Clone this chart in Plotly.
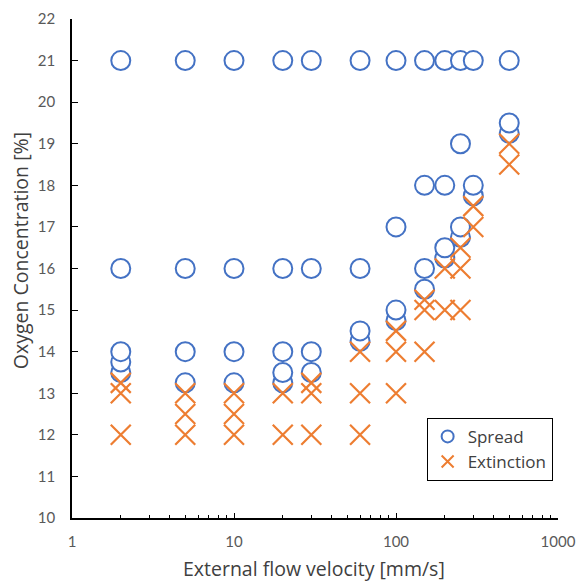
import plotly.graph_objects as go

# Flow velocity [mm/s] and oxygen concentration [%] for flame-spread tests
spread_velocity = [2, 2, 2, 2, 2,
                   5, 5, 5, 5,
                   10, 10, 10, 10,
                   20, 20, 20, 20, 20,
                   30, 30, 30, 30,
                   60, 60, 60, 60,
                   100, 100, 100, 100,
                   150, 150, 150, 150,
                   200, 200, 200, 200,
                   250, 250, 250, 250,
                   300, 300, 300,
                   500, 500, 500]
spread_oxygen = [13.5, 13.75, 14, 16, 21,
                 13.25, 14, 16, 21,
                 13.25, 14, 16, 21,
                 13.25, 13.5, 14, 16, 21,
                 13.5, 14, 16, 21,
                 14.25, 14.5, 16, 21,
                 14.75, 15, 17, 21,
                 15.5, 16, 18, 21,
                 16.25, 16.5, 18, 21,
                 16.75, 17, 19, 21,
                 17.75, 18, 21,
                 19.25, 19.5, 21]

# Conditions where the flame went out
extinction_velocity = [2, 2, 2,
                       5, 5, 5,
                       10, 10, 10,
                       20, 20,
                       30, 30, 30,
                       60, 60, 60,
                       100, 100, 100,
                       150, 150, 150,
                       200, 200,
                       250, 250, 250,
                       300, 300,
                       500, 500]
extinction_oxygen = [12, 13, 13.25,
                     12, 12.5, 13,
                     12, 12.5, 13,
                     12, 13,
                     12, 13, 13.25,
                     12, 13, 14,
                     13, 14, 14.5,
                     14, 15, 15.25,
                     15, 16,
                     15, 16, 16.5,
                     17, 17.5,
                     18.5, 19]

x_major = [1, 10, 100, 1000]
x_minor = [m * d for d in (1, 10, 100) for m in range(2, 10)]
y_ticks = list(range(10, 23))

BLUE = "#4472C4"
ORANGE = "#ED7D31"
TICK_GREY = "#595959"
TITLE_GREY = "#404040"
TICK_FONT = "Lato, 'Open Sans', sans-serif"
TITLE_FONT = "'Open Sans', Lato, sans-serif"

fig = go.Figure()

fig.add_trace(go.Scatter(
    x=spread_velocity, y=spread_oxygen, mode="markers", name="Spread",
    marker=dict(symbol="circle", size=19, color="white",
                line=dict(color=BLUE, width=2)),
))

fig.add_trace(go.Scatter(
    x=extinction_velocity, y=extinction_oxygen, mode="markers", name="Extinction",
    marker=dict(symbol="x-thin", size=20, color=ORANGE,
                line=dict(color=ORANGE, width=2.2)),
))

W, H = 578, 583
L, R, T, B = 72, 19.5, 18.5, 64.7
plot_w = W - L - R
plot_h = H - T - B

fig.update_layout(
    width=W, height=H,
    margin=dict(l=L, r=R, t=T, b=B, pad=0, autoexpand=False),
    paper_bgcolor="white", plot_bgcolor="white",
    font=dict(family=TICK_FONT, size=15, color=TICK_GREY),
    showlegend=True,
    legend=dict(
        x=(427 - L) / plot_w, y=(H - B - 418) / plot_h,
        xanchor="left", yanchor="top",
        bgcolor="white", bordercolor="black", borderwidth=1,
        font=dict(family=TITLE_FONT, size=17, color=TITLE_GREY),
        itemsizing="constant", itemwidth=30,
        tracegroupgap=0,
    ),
)

fig.update_xaxes(
    type="log", range=[0, 3], automargin=False,
    tickvals=x_major, ticktext=[str(v) for v in x_major],
    ticks="inside", ticklen=5, tickwidth=1.3, tickcolor="black",
    minor=dict(tickvals=x_minor, ticks="inside", ticklen=3.5,
               tickwidth=1.2, tickcolor="black", showgrid=False),
    showline=True, linecolor="black", linewidth=1.5,
    showgrid=False, zeroline=False,
    tickfont=dict(family=TICK_FONT, size=15, color=TICK_GREY),
    ticklabelstandoff=9,
)

fig.update_yaxes(
    range=[10, 22], automargin=False,
    tickvals=y_ticks,
    ticks="inside", ticklen=6, tickwidth=1.3, tickcolor="black",
    showline=True, linecolor="black", linewidth=1.5,
    showgrid=False, zeroline=False,
    tickfont=dict(family=TICK_FONT, size=15, color=TICK_GREY),
    ticklabelstandoff=12,
)

# Axis titles
fig.add_annotation(
    text="External flow velocity [mm/s]", xref="paper", yref="paper",
    x=(314 - L) / plot_w, y=(H - B - 569) / plot_h,
    xanchor="center", yanchor="middle", showarrow=False,
    font=dict(family=TITLE_FONT, size=19.5, color=TITLE_GREY),
)
fig.add_annotation(
    text="Oxygen Concentration [%]", xref="paper", yref="paper",
    x=(20 - L) / plot_w, y=(H - B - 251) / plot_h,
    xanchor="center", yanchor="middle", showarrow=False, textangle=-90,
    font=dict(family=TITLE_FONT, size=19.5, color=TITLE_GREY),
)

fig.write_html("out.html")
